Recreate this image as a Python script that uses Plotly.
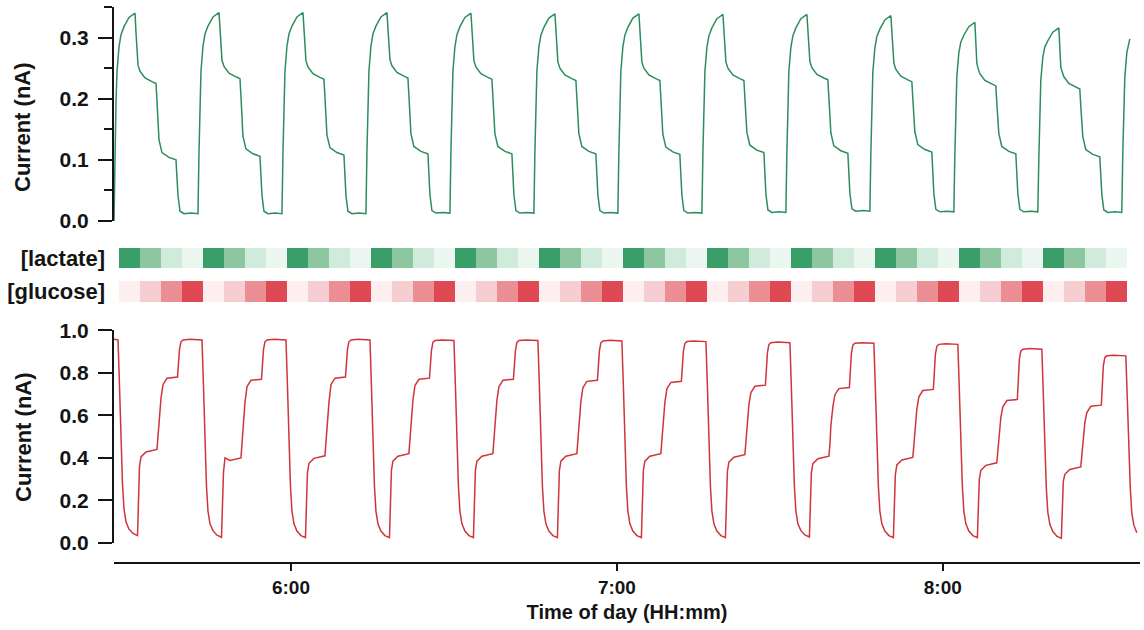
import plotly.graph_objects as go

# ---------------------------------------------------------------------------
# Data
# ---------------------------------------------------------------------------
# Start of each perfusion cycle, minutes since midnight
cycle_start_min = [327.42, 342.88, 358.34, 373.80, 389.26, 404.72, 420.18,
                   435.65, 451.11, 466.57, 482.03, 497.49, 512.95]

# Lactate sensor: sample times inside a cycle (min after cycle start) and currents (nA)
lactate_offsets = [0.00, 0.18, 0.37, 0.55, 0.92, 1.29, 1.84, 2.76, 3.87,
                   4.05, 4.23, 4.42, 4.79, 5.71, 6.99, 7.73,
                   7.91, 8.10, 8.28, 8.83, 10.12, 11.41,
                   11.60, 11.78, 12.15, 12.88, 14.17, 15.28]
lactate_current = [
    [0.000, 0.11, 0.195, 0.245, 0.285, 0.305, 0.318, 0.333, 0.340,
     0.308, 0.273, 0.255, 0.245, 0.234, 0.228, 0.225,
     0.197, 0.155, 0.133, 0.112, 0.104, 0.100,
     0.055, 0.042, 0.016, 0.012, 0.013, 0.012],
    [0.012, 0.11, 0.195, 0.245, 0.286, 0.306, 0.319, 0.334, 0.341,
     0.309, 0.274, 0.263, 0.253, 0.242, 0.236, 0.233,
     0.205, 0.161, 0.139, 0.118, 0.110, 0.106,
     0.061, 0.042, 0.016, 0.012, 0.013, 0.012],
    [0.012, 0.11, 0.195, 0.245, 0.286, 0.306, 0.319, 0.334, 0.341,
     0.309, 0.274, 0.262, 0.252, 0.241, 0.235, 0.232,
     0.204, 0.163, 0.141, 0.120, 0.112, 0.108,
     0.063, 0.042, 0.016, 0.012, 0.013, 0.012],
    [0.012, 0.11, 0.195, 0.245, 0.286, 0.306, 0.319, 0.334, 0.341,
     0.309, 0.274, 0.264, 0.254, 0.243, 0.237, 0.234,
     0.206, 0.165, 0.143, 0.122, 0.114, 0.110,
     0.065, 0.043, 0.017, 0.013, 0.014, 0.013],
    [0.013, 0.11, 0.195, 0.245, 0.285, 0.305, 0.318, 0.333, 0.340,
     0.308, 0.273, 0.262, 0.252, 0.241, 0.235, 0.232,
     0.204, 0.165, 0.143, 0.122, 0.114, 0.110,
     0.065, 0.043, 0.017, 0.013, 0.014, 0.013],
    [0.013, 0.11, 0.195, 0.245, 0.285, 0.304, 0.317, 0.332, 0.339,
     0.307, 0.272, 0.260, 0.250, 0.239, 0.233, 0.230,
     0.202, 0.165, 0.143, 0.122, 0.114, 0.110,
     0.065, 0.043, 0.017, 0.013, 0.014, 0.013],
    [0.013, 0.11, 0.195, 0.245, 0.285, 0.304, 0.317, 0.332, 0.339,
     0.307, 0.272, 0.260, 0.250, 0.239, 0.233, 0.230,
     0.202, 0.164, 0.142, 0.121, 0.113, 0.109,
     0.064, 0.043, 0.017, 0.013, 0.014, 0.013],
    [0.013, 0.11, 0.195, 0.245, 0.284, 0.303, 0.316, 0.331, 0.338,
     0.306, 0.271, 0.260, 0.250, 0.239, 0.233, 0.230,
     0.202, 0.167, 0.145, 0.124, 0.116, 0.112,
     0.067, 0.044, 0.018, 0.014, 0.015, 0.014],
    [0.014, 0.11, 0.195, 0.245, 0.284, 0.303, 0.316, 0.331, 0.338,
     0.306, 0.271, 0.261, 0.251, 0.240, 0.234, 0.231,
     0.203, 0.166, 0.144, 0.123, 0.115, 0.111,
     0.066, 0.046, 0.020, 0.016, 0.017, 0.016],
    [0.016, 0.11, 0.195, 0.244, 0.283, 0.302, 0.314, 0.329, 0.336,
     0.304, 0.269, 0.258, 0.248, 0.237, 0.231, 0.228,
     0.200, 0.168, 0.146, 0.125, 0.117, 0.113,
     0.068, 0.045, 0.019, 0.015, 0.016, 0.015],
    [0.015, 0.105, 0.190, 0.237, 0.275, 0.293, 0.304, 0.318, 0.325,
     0.293, 0.259, 0.251, 0.241, 0.230, 0.224, 0.221,
     0.193, 0.165, 0.143, 0.122, 0.114, 0.110,
     0.065, 0.045, 0.019, 0.015, 0.016, 0.015],
    [0.015, 0.100, 0.185, 0.230, 0.268, 0.285, 0.295, 0.309, 0.316,
     0.285, 0.252, 0.246, 0.236, 0.225, 0.219, 0.216,
     0.188, 0.160, 0.138, 0.117, 0.109, 0.105,
     0.060, 0.044, 0.018, 0.014, 0.015, 0.014],
]
lactate_tail_offsets = [0.00, 0.18, 0.37, 0.55, 0.92, 1.47]
lactate_tail_current = [0.014, 0.110, 0.190, 0.235, 0.275, 0.298]

# Glucose sensor: sample times inside a cycle (min after cycle start) and currents (nA)
glucose_offsets = [0.00, 0.74, 1.01, 1.29, 1.56, 1.84, 2.21, 2.76, 3.50, 4.33, 4.51, 4.69, 4.97,
                   5.89, 7.91, 8.10, 8.28, 8.65, 9.02, 9.76, 11.69, 11.87, 12.06, 12.33, 12.70, 13.99]
glucose_current = [
    [0.958, 0.955, 0.74, 0.47, 0.28, 0.16, 0.10, 0.065, 0.045, 0.035, 0.25, 0.36, 0.405,
     0.428, 0.44, 0.50, 0.58, 0.68, 0.745, 0.775, 0.78, 0.86, 0.91, 0.946, 0.955, 0.958],
    [0.958, 0.955, 0.74, 0.47, 0.27, 0.15, 0.09, 0.058, 0.037, 0.027, 0.22, 0.33, 0.40,
     0.388, 0.40, 0.46, 0.55, 0.66, 0.735, 0.765, 0.77, 0.85, 0.91, 0.946, 0.955, 0.958],
    [0.958, 0.955, 0.74, 0.47, 0.27, 0.15, 0.09, 0.056, 0.035, 0.025, 0.22, 0.33, 0.375,
     0.398, 0.41, 0.47, 0.56, 0.66, 0.745, 0.775, 0.78, 0.86, 0.91, 0.946, 0.955, 0.958],
    [0.958, 0.955, 0.74, 0.47, 0.27, 0.15, 0.09, 0.056, 0.035, 0.025, 0.23, 0.34, 0.385,
     0.408, 0.42, 0.48, 0.57, 0.67, 0.74, 0.77, 0.775, 0.86, 0.905, 0.943, 0.952, 0.955],
    [0.955, 0.952, 0.74, 0.47, 0.27, 0.15, 0.09, 0.056, 0.035, 0.025, 0.23, 0.34, 0.385,
     0.408, 0.42, 0.48, 0.57, 0.67, 0.735, 0.765, 0.77, 0.85, 0.905, 0.943, 0.952, 0.955],
    [0.955, 0.952, 0.74, 0.47, 0.27, 0.15, 0.09, 0.056, 0.035, 0.025, 0.23, 0.34, 0.385,
     0.408, 0.42, 0.48, 0.57, 0.665, 0.73, 0.76, 0.765, 0.85, 0.903, 0.941, 0.95, 0.953],
    [0.953, 0.95, 0.74, 0.47, 0.27, 0.15, 0.09, 0.056, 0.035, 0.025, 0.23, 0.34, 0.385,
     0.408, 0.42, 0.48, 0.57, 0.66, 0.725, 0.755, 0.76, 0.84, 0.90, 0.938, 0.947, 0.95],
    [0.95, 0.947, 0.74, 0.47, 0.27, 0.15, 0.09, 0.056, 0.035, 0.025, 0.225, 0.335, 0.38,
     0.403, 0.415, 0.47, 0.56, 0.65, 0.707, 0.737, 0.742, 0.83, 0.895, 0.933, 0.942, 0.945],
    [0.945, 0.942, 0.73, 0.47, 0.27, 0.15, 0.09, 0.058, 0.038, 0.028, 0.22, 0.33, 0.373,
     0.396, 0.408, 0.46, 0.55, 0.64, 0.696, 0.726, 0.731, 0.82, 0.892, 0.93, 0.939, 0.942],
    [0.942, 0.939, 0.73, 0.47, 0.27, 0.15, 0.09, 0.056, 0.035, 0.025, 0.21, 0.32, 0.367,
     0.39, 0.402, 0.455, 0.54, 0.63, 0.687, 0.717, 0.722, 0.81, 0.887, 0.925, 0.934, 0.937],
    [0.937, 0.934, 0.72, 0.46, 0.27, 0.15, 0.09, 0.056, 0.035, 0.025, 0.20, 0.30, 0.342,
     0.365, 0.377, 0.43, 0.51, 0.59, 0.64, 0.67, 0.675, 0.77, 0.864, 0.902, 0.911, 0.914],
    [0.914, 0.911, 0.70, 0.45, 0.26, 0.145, 0.088, 0.054, 0.032, 0.022, 0.19, 0.29, 0.323,
     0.346, 0.358, 0.41, 0.49, 0.565, 0.613, 0.643, 0.648, 0.74, 0.833, 0.871, 0.88, 0.883],
]
glucose_tail_offsets = [0.00, 0.74, 1.01, 1.29, 1.56, 1.84, 2.21, 2.76]
glucose_tail_current = [0.883, 0.880, 0.68, 0.44, 0.26, 0.14, 0.085, 0.048]

# Concentration protocol: one level per 3.865-min step (0 = none ... 3 = highest)
lactate_level = [3, 2, 1, 0] * 12
glucose_level = [0, 1, 2, 3] * 12
step_first_center = 330.27
step_width = 3.865

# Axis ticks
time_tickvals = [360, 420, 480]
time_ticktext = ["6:00", "7:00", "8:00"]
x_range = [327.42, 516.3]

# ---------------------------------------------------------------------------
# Assemble the continuous traces from the per-cycle samples
# ---------------------------------------------------------------------------
def assemble(starts, offsets, rows, tail_offsets, tail_values):
    xs, ys = [], []
    for start, row in zip(starts, rows):
        for off, val in zip(offsets, row):
            xs.append(start + off)
            ys.append(val)
    last = starts[len(rows)]
    for off, val in zip(tail_offsets, tail_values):
        xs.append(last + off)
        ys.append(val)
    return xs, ys

lac_x, lac_y = assemble(cycle_start_min, lactate_offsets, lactate_current,
                        lactate_tail_offsets, lactate_tail_current)
glu_x, glu_y = assemble(cycle_start_min, glucose_offsets, glucose_current,
                        glucose_tail_offsets, glucose_tail_current)

GREEN_LINE = "#2b8e5c"
RED_LINE = "#d0353b"
lactate_scale = [[0, "#ecf6f0"], [1 / 3, "#d0eadb"], [2 / 3, "#8cc7a0"], [1, "#3a9e68"]]
glucose_scale = [[0, "#fdeeef"], [1 / 3, "#f6cdd1"], [2 / 3, "#eb8f94"], [1, "#de4953"]]

FONT = "Liberation Sans, Arial, Helvetica, sans-serif"
INK = "#141414"
def bold(size):
    return dict(family=FONT, size=size, color=INK, weight="bold")

fig = go.Figure()
fig.add_trace(go.Scatter(x=lac_x, y=lac_y, mode="lines", yaxis="y",
                         line=dict(color=GREEN_LINE, width=1.5), hoverinfo="skip"))
fig.add_trace(go.Heatmap(z=[lactate_level], x0=step_first_center, dx=step_width, y=[0],
                         yaxis="y2", colorscale=lactate_scale, zmin=0, zmax=3,
                         showscale=False, hoverinfo="skip"))
fig.add_trace(go.Heatmap(z=[glucose_level], x0=step_first_center, dx=step_width, y=[0],
                         yaxis="y3", colorscale=glucose_scale, zmin=0, zmax=3,
                         showscale=False, hoverinfo="skip"))
fig.add_trace(go.Scatter(x=glu_x, y=glu_y, mode="lines", yaxis="y4",
                         line=dict(color=RED_LINE, width=1.5), hoverinfo="skip"))

H = 630.0
def dom(top_px, bottom_px):
    return [1 - bottom_px / H, 1 - top_px / H]

axis_common = dict(showgrid=False, zeroline=False, showline=True, linecolor=INK,
                   linewidth=2, ticks="outside", tickwidth=2, tickcolor=INK,
                   ticklen=14, tickfont=bold(21), ticklabelstandoff=5, automargin=False)

fig.update_layout(
    width=1144, height=630,
    margin=dict(l=114, r=4, t=0, b=0),
    paper_bgcolor="white", plot_bgcolor="white",
    showlegend=False,
    font=dict(family=FONT),
    xaxis=dict(range=x_range, anchor="free", position=1 - 563 / H,
               showgrid=False, zeroline=False, showline=True, linecolor=INK,
               linewidth=2, ticks="outside", tickwidth=2, tickcolor=INK, ticklen=7,
               tickvals=time_tickvals, ticktext=time_ticktext, tickfont=bold(19),
               title=dict(text="Time of day (HH:mm)", font=bold(20), standoff=7),
               automargin=False),
    yaxis=dict(domain=dom(7, 221), range=[0, 0.3502], tickvals=[0, 0.1, 0.2, 0.3],
               ticktext=["0.0", "0.1", "0.2", "0.3"],
               minor=dict(dtick=0.05, tick0=0, ticks="outside", ticklen=8,
                          tickwidth=2, tickcolor=INK),
               **axis_common),
    yaxis2=dict(domain=dom(248, 268), range=[-0.5, 0.5], showgrid=False, zeroline=False,
                showline=False, ticks="", tickvals=[0], ticktext=["[lactate]"],
                tickfont=bold(22), ticklabelstandoff=8, automargin=False),
    yaxis3=dict(domain=dom(281, 302), range=[-0.5, 0.5], showgrid=False, zeroline=False,
                showline=False, ticks="", tickvals=[0], ticktext=["[glucose]"],
                tickfont=bold(22), ticklabelstandoff=8, automargin=False),
    yaxis4=dict(domain=dom(330, 543), range=[0, 1.0015],
                tickvals=[0, 0.2, 0.4, 0.6, 0.8, 1.0],
                ticktext=["0.0", "0.2", "0.4", "0.6", "0.8", "1.0"],
                **axis_common),
)

# Y-axis titles for the two sensor panels
for y_mid in (127, 437):
    fig.add_annotation(text="Current (nA)", xref="paper", yref="paper",
                       x=(23 - 114) / 1026, y=1 - y_mid / H, xanchor="center",
                       yanchor="middle", textangle=-90, showarrow=False, font=bold(22))

fig.write_html("out.html")
